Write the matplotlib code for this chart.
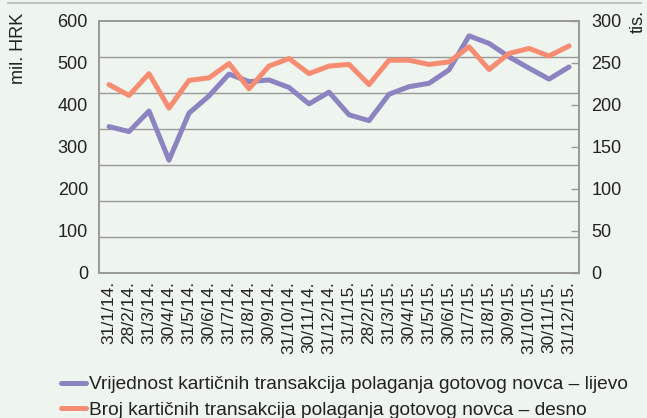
import matplotlib
matplotlib.use('Agg')
from matplotlib import pyplot as plt
from matplotlib.lines import Line2D
import numpy as np

plt.rcParams['font.family'] = ['Liberation Sans', 'DejaVu Sans']

# kraj mjeseca, sijecanj 2014. - prosinac 2015.
dates = ['31/1/14.', '28/2/14.', '31/3/14.', '30/4/14.', '31/5/14.', '30/6/14.',
         '31/7/14.', '31/8/14.', '30/9/14.', '31/10/14.', '30/11/14.', '31/12/14.',
         '31/1/15.', '28/2/15.', '31/3/15.', '30/4/15.', '31/5/15.', '30/6/15.',
         '31/7/15.', '31/8/15.', '30/9/15.', '31/10/15.', '30/11/15.', '31/12/15.']

# vrijednost (mil. HRK) - lijeva os
value_mil = [348, 336, 385, 268, 380, 421, 473, 455, 459, 441, 402, 430,
             376, 362, 425, 443, 451, 483, 564, 546, 514, 487, 461, 490]

# broj (tis.) - desna os
count_tis = [224, 211, 237, 196, 229, 232, 249, 219, 246, 255, 237, 246,
             248, 224, 253, 253, 248, 251, 269, 242, 261, 267, 258, 270]

label_value = 'Vrijednost kartičnih transakcija polaganja gotovog novca – lijevo'
label_count = 'Broj kartičnih transakcija polaganja gotovog novca – desno'

bg = '#eef4ee'
purple = '#8b84c1'
orange = '#f68d73'
grey = '#9a9a9a'
txt = '#222222'

fig = plt.figure(figsize=(6.47, 4.18), dpi=100, facecolor=bg)
ax = fig.add_axes([0.153, 0.3476, 0.742, 0.6028])
ax.set_facecolor(bg)
ax2 = ax.twinx()

x = np.arange(len(dates))
ax.plot(x, value_mil, color=purple, linewidth=3.6, solid_capstyle='round', zorder=3)
ax2.plot(x, count_tis, color=orange, linewidth=3.6, solid_capstyle='round', zorder=3)

ax.set_xlim(-0.5, len(dates) - 0.5)
ax.set_ylim(0, 600)
ax2.set_ylim(0, 300)

ax.set_yticks(np.arange(0, 601, 100))
# mreza u originalu ima 7 razmaka, neovisno o oznakama
ax.set_yticks(np.linspace(0, 600, 8), minor=True)
ax.grid(which='minor', axis='y', color=grey, linewidth=1.0)
ax.tick_params(axis='y', which='both', length=0, labelsize=13, pad=8, colors=txt)
ax2.set_yticks(np.arange(0, 301, 50))
ax2.tick_params(axis='y', direction='in', length=6, width=1.0, color=grey,
                labelsize=13, pad=9, labelcolor=txt)

ax.set_xticks(x)
ax.set_xticklabels(dates, rotation=90, fontsize=12.5, color=txt)
ax.tick_params(axis='x', length=0, pad=6)

for a in (ax, ax2):
    for s in a.spines.values():
        s.set_color(grey)
        s.set_linewidth(1.3)

fig.text(0.028, 0.97, 'mil. HRK', rotation=90, ha='center', va='top', fontsize=13, color=txt)
fig.text(0.986, 0.977, 'tis.', rotation=90, ha='center', va='top', fontsize=13, color=txt)

# linija na vrhu
fig.add_artist(Line2D([0.012, 0.99], [0.994, 0.994], color='#b5b9b5', linewidth=1.2))

handles = [Line2D([], [], color=purple, linewidth=3.6, solid_capstyle='round'),
           Line2D([], [], color=orange, linewidth=3.6, solid_capstyle='round')]
fig.legend(handles, [label_value, label_count], loc='lower left', bbox_to_anchor=(0.082, -0.02),
           frameon=False, fontsize=13.8, handlelength=1.3, handletextpad=0.2,
           labelspacing=0.42, borderaxespad=0, labelcolor=txt)

fig.savefig('out.png', dpi=100, facecolor=bg)
